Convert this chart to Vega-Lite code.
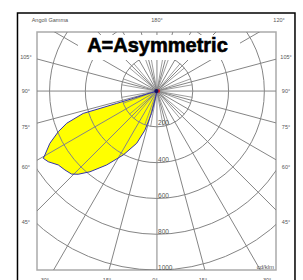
{
  "$schema": "https://vega.github.io/schema/vega-lite/v6.json",
  "width": 239,
  "height": 238,
  "autosize": {"type": "none"},
  "padding": {"left": 37, "top": 32, "right": 27, "bottom": 10},
  "background": "white",
  "config": {"view": {"stroke": "#aaaaaa", "strokeWidth": 1.5}, "font": "Liberation Sans"},
  "datasets": {
    "border": [{"x": -779, "x2": 771, "y": 436, "y2": -1120}],
    "rings": [{"x": 0, "y": 0, "r": 200}, {"x": 0, "y": 0, "r": 400}, {"x": 0, "y": 0, "r": 600}, {"x": 0, "y": 0, "r": 800}, {"x": 0, "y": 0, "r": 1000}],
    "major": [
      {"x": 0, "y": 0, "x2": 1500, "y2": 0}, {"x": 0, "y": 0, "x2": 1449, "y2": 388}, {"x": 0, "y": 0, "x2": 1299, "y2": 750},
      {"x": 0, "y": 0, "x2": 1061, "y2": 1061}, {"x": 0, "y": 0, "x2": 750, "y2": 1299}, {"x": 0, "y": 0, "x2": 388, "y2": 1449},
      {"x": 0, "y": 0, "x2": 0, "y2": 1500}, {"x": 0, "y": 0, "x2": -388, "y2": 1449}, {"x": 0, "y": 0, "x2": -750, "y2": 1299},
      {"x": 0, "y": 0, "x2": -1061, "y2": 1061}, {"x": 0, "y": 0, "x2": -1299, "y2": 750}, {"x": 0, "y": 0, "x2": -1449, "y2": 388},
      {"x": 0, "y": 0, "x2": -1500, "y2": 0}, {"x": 0, "y": 0, "x2": -1449, "y2": -388}, {"x": 0, "y": 0, "x2": -1299, "y2": -750},
      {"x": 0, "y": 0, "x2": -1061, "y2": -1061}, {"x": 0, "y": 0, "x2": -750, "y2": -1299}, {"x": 0, "y": 0, "x2": -388, "y2": -1449},
      {"x": 0, "y": 0, "x2": 0, "y2": -1500}, {"x": 0, "y": 0, "x2": 388, "y2": -1449}, {"x": 0, "y": 0, "x2": 750, "y2": -1299},
      {"x": 0, "y": 0, "x2": 1061, "y2": -1061}, {"x": 0, "y": 0, "x2": 1299, "y2": -750}, {"x": 0, "y": 0, "x2": 1449, "y2": -388}
    ],
    "minor": [
      {"x": 0, "y": 0, "x2": 197, "y2": 35}, {"x": 0, "y": 0, "x2": 188, "y2": 68}, {"x": 0, "y": 0, "x2": 153, "y2": 129},
      {"x": 0, "y": 0, "x2": 129, "y2": 153}, {"x": 0, "y": 0, "x2": 68, "y2": 188}, {"x": 0, "y": 0, "x2": 35, "y2": 197},
      {"x": 0, "y": 0, "x2": -35, "y2": 197}, {"x": 0, "y": 0, "x2": -68, "y2": 188}, {"x": 0, "y": 0, "x2": -129, "y2": 153},
      {"x": 0, "y": 0, "x2": -153, "y2": 129}, {"x": 0, "y": 0, "x2": -188, "y2": 68}, {"x": 0, "y": 0, "x2": -197, "y2": 35},
      {"x": 0, "y": 0, "x2": -197, "y2": -35}, {"x": 0, "y": 0, "x2": -188, "y2": -68}, {"x": 0, "y": 0, "x2": -153, "y2": -129},
      {"x": 0, "y": 0, "x2": -129, "y2": -153}, {"x": 0, "y": 0, "x2": -68, "y2": -188}, {"x": 0, "y": 0, "x2": -35, "y2": -197},
      {"x": 0, "y": 0, "x2": 35, "y2": -197}, {"x": 0, "y": 0, "x2": 68, "y2": -188}, {"x": 0, "y": 0, "x2": 129, "y2": -153},
      {"x": 0, "y": 0, "x2": 153, "y2": -129}, {"x": 0, "y": 0, "x2": 188, "y2": -68}, {"x": 0, "y": 0, "x2": 197, "y2": -35}
    ],
    "curve": [
      {"i": 0, "x": 0, "y": 0}, {"i": 1, "x": -57, "y": -17}, {"i": 2, "x": -132, "y": -41}, {"i": 3, "x": -225, "y": -69},
      {"i": 4, "x": -318, "y": -97}, {"i": 5, "x": -412, "y": -125}, {"i": 6, "x": -504, "y": -180}, {"i": 7, "x": -551, "y": -227},
      {"i": 8, "x": -598, "y": -292}, {"i": 9, "x": -626, "y": -357}, {"i": 10, "x": -635, "y": -376}, {"i": 11, "x": -607, "y": -395},
      {"i": 12, "x": -551, "y": -413}, {"i": 13, "x": -514, "y": -441}, {"i": 14, "x": -477, "y": -464}, {"i": 15, "x": -440, "y": -465},
      {"i": 16, "x": -374, "y": -451}, {"i": 17, "x": -281, "y": -413}, {"i": 18, "x": -188, "y": -357}, {"i": 19, "x": -113, "y": -292},
      {"i": 20, "x": -67, "y": -218}, {"i": 21, "x": -30, "y": -125}, {"i": 22, "x": -11, "y": -50}, {"i": 23, "x": 0, "y": 0}
    ],
    "dots": [{"x": 8, "y": 0, "c": "#e02020", "s": 12}, {"x": -3, "y": 0, "c": "#101060", "s": 18}],
    "ringlabels": [
      {"x": 6, "y": -179, "t": "200"}, {"x": 6, "y": -385, "t": "400"}, {"x": 6, "y": -587, "t": "600"},
      {"x": 6, "y": -788, "t": "800"}, {"x": 6, "y": -989, "t": "1000"}
    ],
    "labels": [
      {"x": -598, "y": 397, "t": "Angoli Gamma"}, {"x": 0, "y": 397, "t": "180°"}, {"x": 682, "y": 397, "t": "120°"},
      {"x": -732, "y": 190, "t": "105°"}, {"x": -732, "y": 0, "t": "90°"}, {"x": -732, "y": -201, "t": "75°"},
      {"x": -732, "y": -425, "t": "60°"}, {"x": -732, "y": -732, "t": "45°"},
      {"x": 721, "y": 190, "t": "105°"}, {"x": 721, "y": 0, "t": "90°"}, {"x": 721, "y": -201, "t": "75°"},
      {"x": 721, "y": -425, "t": "60°"}, {"x": 721, "y": -732, "t": "45°"},
      {"x": -626, "y": -1058, "t": "30°"}, {"x": -279, "y": -1058, "t": "15°"}, {"x": -11, "y": -1058, "t": "0°"},
      {"x": 257, "y": -1058, "t": "15°"}, {"x": 615, "y": -1058, "t": "30°"}
    ],
    "unit": [{"x": 654, "y": -983, "t": "cd/klm"}],
    "titlebox": [{"x": -441, "x2": 464, "y": 313, "y2": 173}],
    "title": [{"x": 3, "y": 218, "t": "A=Asymmetric"}]
  },
  "encoding": {
    "x": {"field": "x", "type": "quantitative", "scale": {"domain": [-670, 665], "nice": false, "zero": false}, "axis": null},
    "y": {"field": "y", "type": "quantitative", "scale": {"domain": [-1000, 330], "nice": false, "zero": false}, "axis": null}
  },
  "layer": [
    {"data": {"name": "curve"}, "mark": {"type": "line", "fill": "#ffff00", "stroke": null, "clip": true},
     "encoding": {"order": {"field": "i", "type": "quantitative"}}},
    {"data": {"name": "rings"}, "mark": {"type": "point", "filled": false, "stroke": "#858585", "strokeWidth": 1, "opacity": 1, "clip": true},
     "encoding": {"size": {"field": "r", "type": "quantitative", "scale": {"type": "pow", "exponent": 2, "domain": [0, 1000], "range": [0, 128164]}, "legend": null}}},
    {"data": {"name": "major"}, "mark": {"type": "rule", "color": "#858585", "strokeWidth": 1, "clip": true},
     "encoding": {"x2": {"field": "x2"}, "y2": {"field": "y2"}}},
    {"data": {"name": "minor"}, "mark": {"type": "rule", "color": "#858585", "strokeWidth": 0.8, "clip": true},
     "encoding": {"x2": {"field": "x2"}, "y2": {"field": "y2"}}},
    {"data": {"name": "curve"}, "mark": {"type": "line", "stroke": "#3535a8", "strokeWidth": 1, "clip": true},
     "encoding": {"order": {"field": "i", "type": "quantitative"}}},
    {"data": {"name": "dots"}, "mark": {"type": "point", "filled": true, "opacity": 1},
     "encoding": {"color": {"field": "c", "type": "nominal", "scale": null}, "size": {"field": "s", "type": "quantitative", "scale": null}}},
    {"data": {"name": "ringlabels"}, "mark": {"type": "text", "align": "left", "baseline": "middle", "fontSize": 6.5, "color": "#555555"},
     "encoding": {"text": {"field": "t"}}},
    {"data": {"name": "labels"}, "mark": {"type": "text", "align": "center", "baseline": "middle", "fontSize": 5.5, "color": "#555555", "clip": false},
     "encoding": {"text": {"field": "t"}}},
    {"data": {"name": "unit"}, "mark": {"type": "text", "align": "right", "baseline": "middle", "fontSize": 6, "color": "#555555"},
     "encoding": {"text": {"field": "t"}}},
    {"data": {"name": "titlebox"}, "mark": {"type": "rect", "color": "white", "clip": true},
     "encoding": {"x2": {"field": "x2"}, "y2": {"field": "y2"}}},
    {"data": {"name": "title"}, "mark": {"type": "text", "align": "center", "baseline": "alphabetic", "fontSize": 20, "fontWeight": "bold", "color": "black", "stroke": "black", "strokeWidth": 0.6},
     "encoding": {"text": {"field": "t"}}},
    {"data": {"name": "border"}, "mark": {"type": "rect", "filled": false, "color": "black", "strokeWidth": 1.5, "clip": false},
     "encoding": {"x2": {"field": "x2"}, "y2": {"field": "y2"}}}
  ]
}
